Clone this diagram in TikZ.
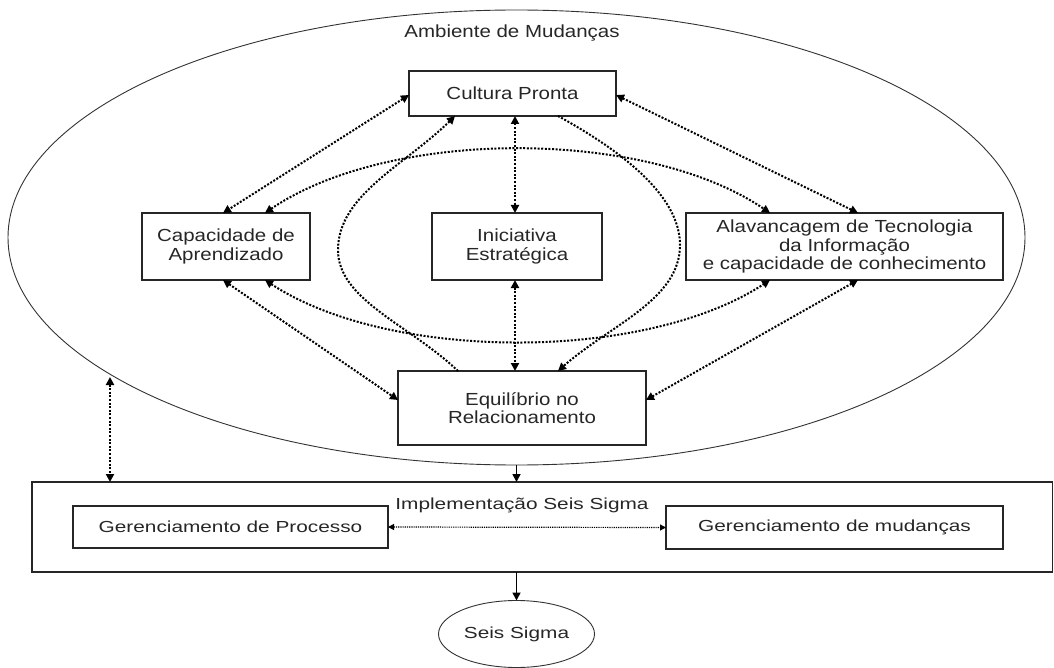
\documentclass[tikz,border=0pt]{standalone}
\usepackage{fontspec}
\setmainfont{Liberation Sans}[FakeStretch=1.17]
\newfontfamily\lowerfont{Liberation Sans}[FakeStretch=1.3]
\usetikzlibrary{arrows.meta,shapes.geometric,calc}

\begin{document}
\begin{tikzpicture}[x=1pt,y=-1pt,
  topfont/.style={font=\fontsize{17.5}{18.5}\selectfont, text=black!85},
  lowfont/.style={font=\lowerfont\fontsize{16}{18}\selectfont, text=black!85},
  box/.style={draw=black!85, line width=1.1pt, inner sep=0pt, outer sep=0pt,
              align=center, topfont},
  lowbox/.style={box, lowfont},
  dotted line/.style={line width=2pt, dash pattern=on 2pt off 1.6pt},
  dotboth/.style={dotted line, {Triangle[length=8pt,width=8pt]}-{Triangle[length=8pt,width=8pt]}},
  dotone/.style={dotted line, -{Triangle[length=8pt,width=8pt]}},
  thinboth/.style={line width=1.2pt, dash pattern=on 1.2pt off 1pt,
                   {Triangle[length=6pt,width=6pt]}-{Triangle[length=6pt,width=6pt]}},
  solidarrow/.style={line width=1.7pt, -{Triangle[length=8pt,width=8pt]}}
]
\useasboundingbox (0,0) rectangle (1054,668);

% environment ellipse and its title
\node[draw=black!80, line width=0.9pt, ellipse, inner sep=0pt, outer sep=0pt,
      minimum width=1017pt, minimum height=455pt] (env) at (516.5,237.5) {};
\node[topfont] (envlabel) at (512,33) {Ambiente de Mudanças};

% the five factor boxes
\node[box, minimum width=207pt, minimum height=45pt] (cult) at (512.5,93.5) {Cultura Pronta};
\node[box, minimum width=168pt, minimum height=67pt] (cap) at (226,246.5) {Capacidade de\\Aprendizado};
\node[box, minimum width=170pt, minimum height=67pt] (ini) at (517,246.5) {Iniciativa\\Estratégica};
\node[box, minimum width=317pt, minimum height=67pt] (ala) at (844.5,246.5)
  {Alavancagem de Tecnologia\\da Informação\\e capacidade de conhecimento};
\node[box, minimum width=248pt, minimum height=74pt] (equ) at (522,408) {Equilíbrio no\\Relacionamento};

% implementation frame
\node[draw=black!85, line width=1.1pt, inner sep=0pt, outer sep=0pt,
      minimum width=1020.5pt, minimum height=90pt] (impl) at (542.25,527) {};
\node[lowfont] (impllabel) at (522,505) {Implementação Seis Sigma};
\node[lowbox, minimum width=315pt, minimum height=42pt] (proc) at (230.5,527) {Gerenciamento de Processo};
\node[lowbox, minimum width=337pt, minimum height=43pt] (mud) at (834.5,527.5) {Gerenciamento de mudanças};

% result
\node[draw=black!80, line width=0.9pt, ellipse, inner sep=0pt, outer sep=0pt,
      minimum width=156pt, minimum height=67pt, lowfont] (seis) at (516.5,634) {Seis Sigma};

% attachment points on the boxes
\coordinate (capA) at ($(cap.north)+(-3,0)$);
\coordinate (capB) at ($(cap.north)+(39,0)$);
\coordinate (capC) at ($(cap.south)+(-3,0)$);
\coordinate (capD) at ($(cap.south)+(39,0)$);
\coordinate (alaA) at ($(ala.north)+(-74.5,0)$);
\coordinate (alaB) at ($(ala.north)+(13.5,0)$);
\coordinate (alaC) at ($(ala.south)+(-74.5,0)$);
\coordinate (alaD) at ($(ala.south)+(13.5,0)$);
\coordinate (culW) at ($(cult.west)+(0,1.5)$);
\coordinate (culE) at ($(cult.east)+(0,1.5)$);
\coordinate (culSL) at ($(cult.south)+(-57.5,0)$);
\coordinate (culSR) at ($(cult.south)+(45.5,0)$);
\coordinate (iniN) at ($(ini.north)+(-2,0)$);
\coordinate (iniS) at ($(ini.south)+(-2,0)$);
\coordinate (equW) at ($(equ.west)+(0,-8)$);
\coordinate (equE) at ($(equ.east)+(0,-8)$);
\coordinate (equNL) at ($(equ.north)+(-64,0)$);
\coordinate (equNR) at ($(equ.north)+(36,0)$);
\coordinate (lbend) at (338,250);
\coordinate (rbend) at (680,245);
\coordinate (envtip) at (110,377);

% links around the ready culture
\draw[dotboth] (culW) -- (capA);
\draw[dotboth] (culE) -- (alaB);
\draw[dotboth] (iniN |- cult.south) -- (iniN);
\draw[dotboth] (iniS) -- (iniS |- equ.north);

% links to the relationship balance
\draw[dotboth] (capC) -- (equW);
\draw[dotboth] (alaD) -- (equE);

% arcs between learning capacity and IT leverage
\draw[dotboth] (capB) .. controls (390,128) and (645,128) .. (alaA);
\draw[dotboth] (capD) .. controls (390,362) and (645,362) .. (alaC);

% loop between culture and relationship balance
\draw[dotone] (equNL) .. controls (410,325) and (338,300) .. (lbend)
              .. controls (338,195) and (405,165) .. (culSL);
\draw[dotone] (culSR) .. controls (620,150) and (680,195) .. (rbend)
              .. controls (680,300) and (610,325) .. (equNR);

% environment to implementation
\draw[dotboth] (envtip) -- (envtip |- impl.north);
\draw[solidarrow] (env.south) -- (env.south |- impl.north);
\draw[thinboth] (proc.east) -- (mud.west);
\draw[solidarrow] (seis.north |- impl.south) -- (seis.north);
\end{tikzpicture}
\end{document}
